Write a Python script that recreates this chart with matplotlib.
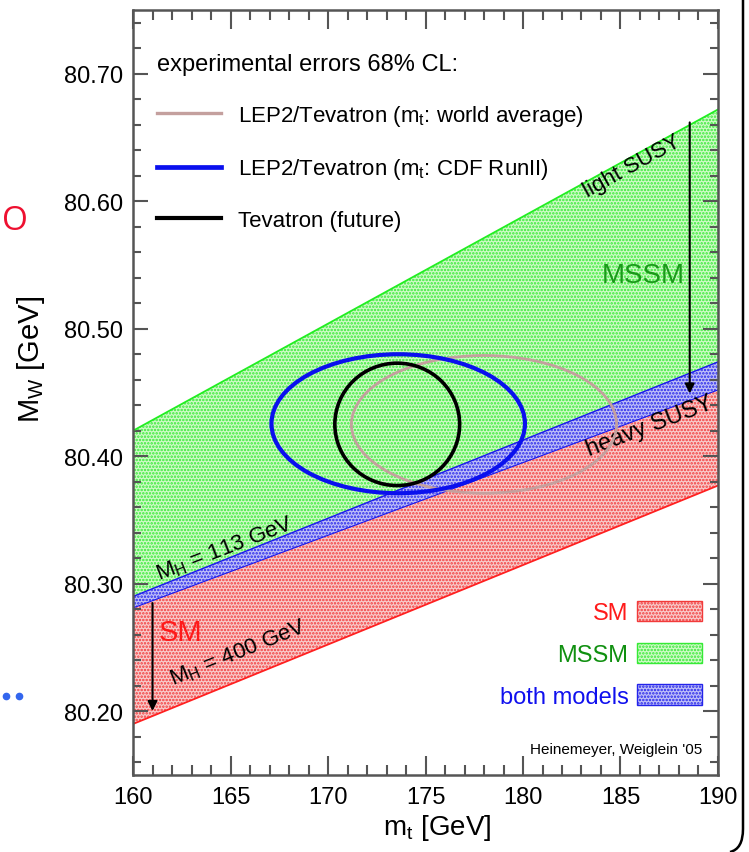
import numpy as np
import matplotlib
matplotlib.use("Agg")
import matplotlib.pyplot as plt
from matplotlib.patches import Ellipse, Patch, PathPatch
from matplotlib.lines import Line2D
from matplotlib.path import Path
from matplotlib import font_manager

# the original uses a narrow Helvetica; take a narrow face when there is one
installed = {f.name for f in font_manager.fontManager.ttflist}
narrow = 'Liberation Sans Narrow' in installed
plt.rcParams['font.family'] = (['Liberation Sans Narrow'] if narrow else []) + ['Liberation Sans', 'DejaVu Sans']
plt.rcParams['hatch.linewidth'] = 1.2
fs = 1.1 if narrow else 1.0

# band edges: M_W at m_t = 160 and 190
mt_ends = [160, 190]
mssm_top = [80.420, 80.672]
both_top = [80.290, 80.474]
both_bot = [80.281, 80.452]
sm_bot = [80.190, 80.377]

# 68% CL contours: centre (mt, mw), half widths (mt, mw)
ell_names = ["LEP2/Tevatron (m$_\\mathregular{t}$: world average)",
             "LEP2/Tevatron (m$_\\mathregular{t}$: CDF RunII)",
             "Tevatron (future)"]
ell_mt = [178.0, 173.6, 173.55]
ell_mw = [80.425, 80.4255, 80.425]
ell_dmt = [6.8, 6.5, 3.2]
ell_dmw = [0.054, 0.0545, 0.048]
ell_colors = ['#c4a09e', '#0a10ee', 'black']
ell_lw = [2.0, 3.0, 2.6]

fig = plt.figure(figsize=(7.49, 8.53), dpi=100)
ax = fig.add_axes([0.1776, 0.0903, 0.781, 0.8968])

# shaded regions
ax.fill_between(mt_ends, both_top, mssm_top, facecolor='#d0fac8', edgecolor='#36ea36',
                hatch='.....', linewidth=0)
ax.fill_between(mt_ends, sm_bot, both_bot, facecolor='#f8cccc', edgecolor='#f23a3a',
                hatch='.....', linewidth=0)
ax.fill_between(mt_ends, both_bot, both_top, facecolor='#c0c0f8', edgecolor='#2424ea',
                hatch='.....', linewidth=0)
ax.plot(mt_ends, mssm_top, color='#22ee22', lw=1.3)
ax.plot(mt_ends, both_top, color='#1818ee', lw=1.0)
ax.plot(mt_ends, both_bot, color='#1818ee', lw=0.8)
ax.plot(mt_ends, sm_bot, color='#ff2020', lw=1.3)

for i in range(3):
    ax.add_patch(Ellipse((ell_mt[i], ell_mw[i]), 2 * ell_dmt[i], 2 * ell_dmw[i],
                         fill=False, edgecolor=ell_colors[i], lw=ell_lw[i], zorder=5))

# arrows
ax.annotate('', xy=(161.0, 80.198), xytext=(161.0, 80.287),
            arrowprops=dict(arrowstyle='-|>', color='black', lw=1.5, mutation_scale=14))
ax.annotate('', xy=(188.55, 80.447), xytext=(188.55, 80.664),
            arrowprops=dict(arrowstyle='-|>', color='black', lw=1.5, mutation_scale=14))

# labels in the plot
ax.text(185.6, 80.628, 'light SUSY', rotation=29, fontsize=16 * fs, ha='center', va='center')
ax.text(188.3, 80.542, 'MSSM', color='#1a9a1a', fontsize=20 * fs, ha='right', va='center')
ax.text(186.5, 80.424, 'heavy SUSY', rotation=21, fontsize=17 * fs, ha='center', va='center')
ax.text(164.7, 80.328, 'M$_\\mathregular{H}$ = 113 GeV', rotation=21, fontsize=16 * fs,
        ha='center', va='center')
ax.text(165.4, 80.246, 'M$_\\mathregular{H}$ = 400 GeV', rotation=22, fontsize=16 * fs,
        ha='center', va='center')
ax.text(161.3, 80.262, 'SM', color='#ff1a1a', fontsize=21 * fs, ha='left', va='center')
ax.text(189.2, 80.170, "Heinemeyer, Weiglein '05", fontsize=11 * fs, ha='right', va='center')

# legends
ell_handles = [Line2D([], [], color=ell_colors[i], lw=ell_lw[i] + 0.4) for i in range(3)]
leg1 = ax.legend(ell_handles, ell_names, loc='upper left', bbox_to_anchor=(0.041, 0.944),
                 title='experimental errors 68% CL:', alignment='left', frameon=False,
                 fontsize=16 * fs, title_fontsize=17 * fs, handlelength=2.9, handletextpad=0.75,
                 labelspacing=1.27, borderaxespad=0.0, borderpad=0.0)
ax.add_artist(leg1)

model_names = ['SM', 'MSSM', 'both models']
model_text = ['#ff1a1a', '#109010', '#1010ee']
model_face = ['#f8cccc', '#d0fac8', '#c0c0f8']
model_hatch = ['#f23a3a', '#36ea36', '#2424ea']
model_handles = [Patch(facecolor=model_face[i], edgecolor=model_hatch[i], hatch='.....', lw=1)
                 for i in range(3)]
ax.legend(model_handles, model_names, loc='lower right', bbox_to_anchor=(0.972, 0.088),
          markerfirst=False, frameon=False, fontsize=17 * fs, labelcolor=model_text,
          handlelength=2.75, handleheight=0.95, handletextpad=0.35, labelspacing=0.78,
          borderaxespad=0.0, borderpad=0.0)

ax.set_xlim(160, 190)
ax.set_ylim(80.15, 80.75)
ax.set_xticks(np.arange(160, 191, 5))
ax.set_xticks(np.arange(160, 191, 1), minor=True)
ax.set_yticks([80.20, 80.30, 80.40, 80.50, 80.60, 80.70])
ax.set_yticks(np.arange(80.16, 80.75, 0.02), minor=True)
ax.set_yticklabels(['80.20', '80.30', '80.40', '80.50', '80.60', '80.70'])
ax.tick_params(axis='both', which='both', direction='in', top=True, right=True,
               colors='#555555', labelcolor='black', labelsize=17 * fs, width=1.5)
ax.tick_params(axis='x', which='major', length=14, pad=8)
ax.tick_params(axis='x', which='minor', length=7)
ax.tick_params(axis='y', which='major', length=11, pad=7)
ax.tick_params(axis='y', which='minor', length=5.5)
for s in ax.spines.values():
    s.set_color('#555555')
    s.set_linewidth(1.8)

ax.set_xlabel('m$_\\mathregular{t}$ [GeV]', fontsize=20 * fs)
ax.set_ylabel('M$_\\mathregular{W}$ [GeV]', fontsize=21 * fs)
ax.xaxis.set_label_coords(0.52, -0.049)
ax.yaxis.set_label_coords(-0.147, 0.544)

# slide leftovers around the picture
fig.text(15 / 749, 1 - 222 / 853, 'O', color='#ee1030', fontsize=24, ha='center', va='center',
         family=['Open Sans', 'DejaVu Sans'])
fig.add_artist(Line2D([6 / 749, 19 / 749], [1 - 697 / 853] * 2, transform=fig.transFigure,
                      ls='none', marker='o', ms=4.5, color='#3366ee'))
frame = Path([(743 / 749, 1.0), (743 / 749, 1 - 830 / 853), (743 / 749, 1 - 850 / 853),
              (730 / 749, 1 - 853 / 853)],
             [Path.MOVETO, Path.LINETO, Path.CURVE3, Path.CURVE3])
fig.add_artist(PathPatch(frame, transform=fig.transFigure, fill=False, lw=1.8, color='black'))

fig.savefig('out.png', dpi=100)
